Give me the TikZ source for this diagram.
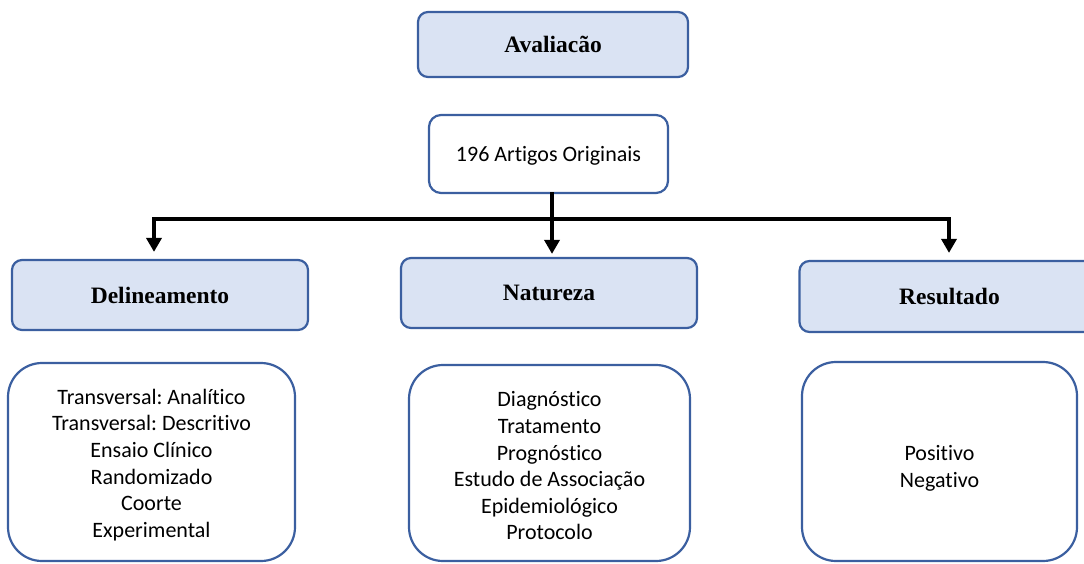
\documentclass[tikz,border=0pt]{standalone}
\usepackage{fontspec}
\setmainfont{Liberation Serif}
\newfontfamily\bodyfont[Ligatures=NoCommon]{Carlito}
\usetikzlibrary{arrows.meta}
\definecolor{hdrfill}{HTML}{DAE3F3}
\definecolor{bordc}{HTML}{3B5FA0}
\tikzset{
  hdr/.style={draw=bordc, line width=2.2pt, fill=hdrfill, rounded corners=10pt,
    minimum width=#1, inner sep=0pt, font=\fontsize{23.5}{27}\selectfont\bfseries},
  hdr/.default=296pt,
  lstbox/.style={draw=bordc, line width=2.2pt, fill=white, rounded corners=34pt, inner sep=0pt},
  lsttxt/.style={inner sep=0pt, align=center, font=\bodyfont\frenchspacing\fontsize{22}{26.6}\selectfont},
  conn/.style={line width=4pt, black, line cap=rect},
  arr/.style={line width=4pt, black, -{Triangle[width=15pt,length=14pt]}},
}
\begin{document}
\begin{tikzpicture}[x=1pt,y=-1pt]
\useasboundingbox (0,0) rectangle (1084,563);
\clip (0,0) rectangle (1084,563);
\node[hdr=270pt, minimum height=65pt] (ava) at (553,44.5) {Avaliacão};
\node[lstbox, rounded corners=12pt, minimum width=239pt, minimum height=78pt] (art) at (548.5,154) {};
\node[lsttxt] (artt) at ([yshift=-2pt]art.center) {196 Artigos Originais};
\node[hdr, minimum height=70pt] (del) at (160,295) {Delineamento};
\node[hdr, minimum height=70pt] (nat) at (549,293) {Natureza};
\node[hdr=300pt, minimum height=71pt] (res) at (949.5,296.5) {Resultado};
\node[lstbox, minimum width=287pt, minimum height=198pt] (l1) at (151.5,462) {};
\node[lsttxt] (l1t) at ([yshift=-3pt]l1.center)
  {Transversal: Analítico\\Transversal: Descritivo\\Ensaio Clínico\\Randomizado\\Coorte\\Experimental};
\node[lstbox, minimum width=281pt, minimum height=196pt] (l2) at (549.5,463) {};
\node[lsttxt] (l2t) at ([yshift=-3pt]l2.center)
  {Diagnóstico\\Tratamento\\Prognóstico\\Estudo de Associação\\Epidemiológico\\Protocolo};
\node[lstbox, minimum width=275pt, minimum height=199pt] (l3) at (939.5,461.5) {};
\node[lsttxt] (l3t) at ([yshift=-7pt]l3.center) {Positivo\\Negativo};
\coordinate (jl) at (154,219);
\coordinate (jm) at (552,219);
\coordinate (jr) at (949,219);
\draw[conn] (jm |- art.south) -- (jm);
\draw[conn] (jl) -- (jr);
\draw[arr, shorten >=7pt] (jl) -- (jl |- del.north);
\draw[arr, shorten >=3pt] (jm) -- (jm |- nat.north);
\draw[arr, shorten >=7pt] (jr) -- (jr |- res.north);
\end{tikzpicture}
\end{document}
